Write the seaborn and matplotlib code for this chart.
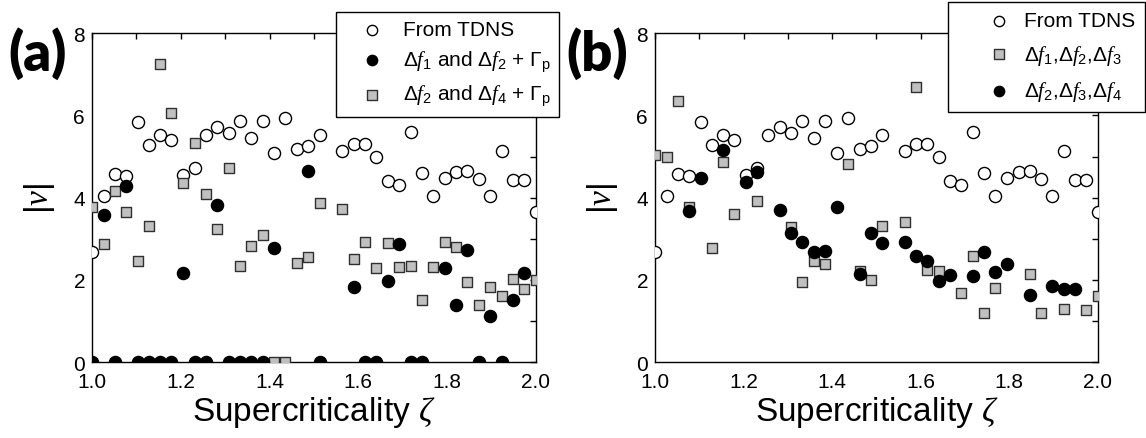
import numpy as np
import pandas as pd
import matplotlib
matplotlib.use("Agg")
import matplotlib.pyplot as plt
import seaborn as sns
from matplotlib.ticker import MultipleLocator

# ---------------- data ----------------
# From TDNS (same in both panels)
tdns_x = [1.000, 1.026, 1.051, 1.077, 1.103, 1.128, 1.154, 1.179, 1.205, 1.231,
          1.256, 1.282, 1.308, 1.333, 1.359, 1.385, 1.410, 1.436, 1.462, 1.487,
          1.513, 1.564, 1.590, 1.615, 1.641, 1.667, 1.692, 1.718, 1.744, 1.769,
          1.795, 1.821, 1.846, 1.872, 1.897, 1.923, 1.949, 1.974, 2.000]
tdns_y = [2.67, 4.05, 4.58, 4.53, 5.83, 5.29, 5.52, 5.40, 4.56, 4.72,
          5.52, 5.72, 5.56, 5.86, 5.45, 5.86, 5.09, 5.94, 5.18, 5.26,
          5.52, 5.14, 5.30, 5.30, 5.00, 4.41, 4.31, 5.60, 4.59, 4.05,
          4.47, 4.63, 4.66, 4.45, 4.05, 5.14, 4.44, 4.44, 3.64]

# Panel (a): Δf1 and Δf2 + Γp  (filled circles)
a_f12_x = [1.000, 1.026, 1.051, 1.077, 1.103, 1.128, 1.154, 1.179, 1.205, 1.231,
           1.256, 1.282, 1.308, 1.333, 1.359, 1.385, 1.410, 1.487, 1.513, 1.590,
           1.615, 1.641, 1.667, 1.692, 1.718, 1.744, 1.795, 1.821, 1.846, 1.872,
           1.897, 1.923, 1.949, 1.974]
a_f12_y = [0.00, 3.58, 0.00, 4.29, 0.00, 0.00, 0.00, 0.00, 2.17, 0.00,
           0.00, 3.82, 0.00, 0.00, 0.00, 0.00, 2.78, 4.64, 0.00, 1.82,
           0.00, 0.00, 1.98, 2.87, 0.00, 0.00, 2.28, 1.40, 2.74, 0.00,
           1.12, 0.00, 1.52, 2.17]

# Panel (a): Δf2 and Δf4 + Γp  (gray squares)
a_f24_x = [1.000, 1.026, 1.051, 1.077, 1.103, 1.128, 1.154, 1.179, 1.205, 1.231,
           1.256, 1.282, 1.308, 1.333, 1.359, 1.385, 1.410, 1.436, 1.462, 1.487,
           1.513, 1.564, 1.590, 1.615, 1.641, 1.667, 1.692, 1.718, 1.744, 1.769,
           1.795, 1.821, 1.846, 1.872, 1.897, 1.923, 1.949, 1.974, 2.000]
a_f24_y = [3.77, 2.87, 4.17, 3.64, 2.45, 3.32, 7.25, 6.06, 4.35, 5.33,
           4.09, 3.24, 4.72, 2.33, 2.82, 3.10, 0.00, 0.00, 2.41, 2.57,
           3.87, 3.72, 2.51, 2.92, 2.28, 2.89, 2.31, 2.35, 1.51, 2.31,
           2.93, 2.79, 1.96, 1.39, 1.84, 1.62, 2.02, 1.78, 2.01]

# Panel (b): Δf1,Δf2,Δf3  (gray squares)
b_f123_x = [1.000, 1.026, 1.051, 1.077, 1.128, 1.154, 1.179, 1.231, 1.308, 1.333,
            1.359, 1.385, 1.436, 1.462, 1.487, 1.513, 1.564, 1.590, 1.615, 1.641,
            1.692, 1.718, 1.744, 1.769, 1.846, 1.872, 1.923, 1.974, 2.000]
b_f123_y = [5.04, 5.00, 6.34, 3.77, 2.78, 4.87, 3.60, 3.93, 3.28, 1.96,
            2.47, 2.39, 4.82, 2.21, 2.01, 3.30, 3.42, 6.68, 2.24, 2.21,
            1.68, 2.58, 1.19, 1.80, 2.15, 1.20, 1.30, 1.27, 1.60]

# Panel (b): Δf2,Δf3,Δf4  (filled circles)
b_f234_x = [1.077, 1.103, 1.154, 1.205, 1.231, 1.282, 1.308, 1.333, 1.359, 1.385,
            1.410, 1.462, 1.487, 1.513, 1.564, 1.590, 1.615, 1.641, 1.667, 1.718,
            1.744, 1.769, 1.795, 1.846, 1.897, 1.923, 1.949]
b_f234_y = [3.68, 4.48, 5.16, 4.37, 4.62, 3.70, 3.14, 2.93, 2.67, 2.71,
            3.78, 2.15, 3.13, 2.90, 2.92, 2.59, 2.45, 1.98, 2.12, 2.10,
            2.67, 2.20, 2.40, 1.635, 1.85, 1.77, 1.77]

x_ticks = [1.0, 1.2, 1.4, 1.6, 1.8, 2.0]
y_ticks = [0, 2, 4, 6, 8]

lab_tdns = "From TDNS"
lab_a1 = r"$\Delta f_1$ and $\Delta f_2$ + $\Gamma_\mathrm{p}$"
lab_a2 = r"$\Delta f_2$ and $\Delta f_4$ + $\Gamma_\mathrm{p}$"
lab_b1 = r"$\Delta f_1$,$\Delta f_2$,$\Delta f_3$"
lab_b2 = r"$\Delta f_2$,$\Delta f_3$,$\Delta f_4$"

# ---------------- style ----------------
sns.set_theme(style="white")
plt.rcParams["font.family"] = ["Liberation Sans", "DejaVu Sans"]
plt.rcParams["mathtext.fontset"] = "custom"
plt.rcParams["mathtext.rm"] = "Liberation Sans"
plt.rcParams["mathtext.it"] = "Liberation Serif:italic"
plt.rcParams["mathtext.bf"] = "Liberation Sans:bold"
plt.rcParams["text.color"] = "black"

TICK_FS = 15
LAB_FS = 24
LEG_FS = 15
S_CIRC = 76
S_SQ = 60
GRAY = "#c0c0c0"

fig = plt.figure(figsize=(11.46, 4.39), dpi=100)
ax_a = fig.add_axes([0.0803, 0.1724, 0.3872, 0.7501])
ax_b = fig.add_axes([0.5716, 0.1724, 0.3863, 0.7501])


def open_circles(ax, x, y, label):
    sns.scatterplot(x=x, y=y, ax=ax, marker="o", s=S_CIRC, color="white",
                    edgecolor="black", linewidth=1.0, label=label, zorder=3,
                    legend=False)


def filled_circles(ax, x, y, label):
    sns.scatterplot(x=x, y=y, ax=ax, marker="o", s=S_CIRC, color="black",
                    edgecolor="black", linewidth=1.0, label=label, zorder=4,
                    legend=False)


def squares(ax, x, y, label):
    sns.scatterplot(x=x, y=y, ax=ax, marker="s", s=S_SQ, color=GRAY,
                    edgecolor="#303030", linewidth=1.0, label=label, zorder=3.5,
                    legend=False)


open_circles(ax_a, tdns_x, tdns_y, lab_tdns)
filled_circles(ax_a, a_f12_x, a_f12_y, lab_a1)
squares(ax_a, a_f24_x, a_f24_y, lab_a2)

open_circles(ax_b, tdns_x, tdns_y, lab_tdns)
squares(ax_b, b_f123_x, b_f123_y, lab_b1)
filled_circles(ax_b, b_f234_x, b_f234_y, lab_b2)

for ax in (ax_a, ax_b):
    ax.set_xlim(1.0, 2.0)
    ax.set_ylim(0, 8)
    ax.set_xticks(x_ticks)
    ax.set_xticklabels([f"{v:.1f}" for v in x_ticks])
    ax.set_yticks(y_ticks)
    ax.set_yticklabels([str(v) for v in y_ticks])
    ax.xaxis.set_minor_locator(MultipleLocator(0.1))
    ax.yaxis.set_minor_locator(MultipleLocator(1))
    ax.tick_params(which="both", direction="in", top=True, right=True,
                   length=4, width=1, color="black", labelcolor="black")
    ax.tick_params(axis="x", which="major", labelsize=TICK_FS, pad=7)
    ax.tick_params(axis="y", which="major", labelsize=TICK_FS, pad=5)
    for sp in ax.spines.values():
        sp.set_color("black")
        sp.set_linewidth(1.0)
    ax.set_xlabel(r"Supercriticality $\zeta$", fontsize=LAB_FS, labelpad=2,
                  color="black")
    ax.set_ylabel(r"$|\nu|$", fontsize=LAB_FS, labelpad=12, color="black")
    ax.grid(False)

# legends
h, l = ax_a.get_legend_handles_labels()
leg_a = ax_a.legend(h, l, loc="upper right", bbox_to_anchor=(0.4878, 0.9711),
                    bbox_transform=fig.transFigure, frameon=True, fancybox=False,
                    edgecolor="black", framealpha=1, fontsize=LEG_FS,
                    handlelength=2.6, handletextpad=0.19, borderpad=0.4,
                    labelspacing=0.45, scatterpoints=1, markerscale=0.85,
                    borderaxespad=0)
leg_a.get_frame().set_linewidth(1.0)
leg_a.set_zorder(10)

h, l = ax_b.get_legend_handles_labels()
leg_b = ax_b.legend(h, l, loc="upper right", bbox_to_anchor=(0.9991, 0.9938),
                    bbox_transform=fig.transFigure, frameon=True, fancybox=False,
                    edgecolor="black", framealpha=1, fontsize=LEG_FS,
                    handlelength=4.04, handletextpad=-0.82, borderpad=0.45,
                    labelspacing=0.6, scatterpoints=1, markerscale=0.85,
                    borderaxespad=0)
leg_b.get_frame().set_linewidth(1.0)
leg_b.set_zorder(10)

# panel labels
fig.text(0.0332, 0.879, "(a)", fontsize=39, fontweight="heavy", color="black",
         family=["Lato", "DejaVu Sans"], ha="center", va="center")
fig.text(0.521, 0.879, "(b)", fontsize=39, fontweight="heavy", color="black",
         family=["Lato", "DejaVu Sans"], ha="center", va="center")

fig.savefig("out.png", dpi=100)
